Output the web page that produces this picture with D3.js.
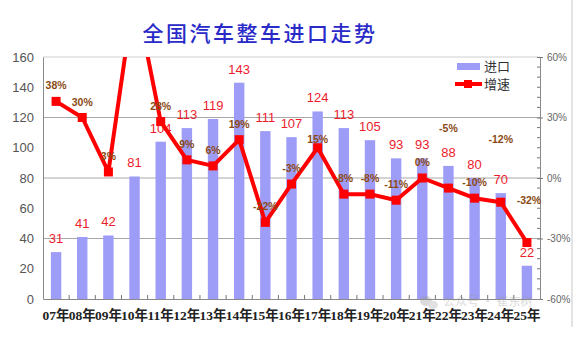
<!DOCTYPE html>
<html>
<head>
<meta charset="utf-8">
<script src="https://cdn.jsdelivr.net/npm/d3@7/dist/d3.min.js"></script>
<style>
  html, body { margin: 0; padding: 0; background: #fff; }
  svg { display: block; }
</style>
</head>
<body>
<svg id="chart" width="580" height="343"></svg>
<script>
// Annual complete-vehicle imports (10k units) and year-on-year growth (%)
const years = ["07年","08年","09年","10年","11年","12年","13年","14年","15年","16年","17年","18年","19年","20年","21年","22年","23年","24年","25年"];
const imports = [31, 41, 42, 81, 104, 113, 119, 143, 111, 107, 124, 113, 105, 93, 93, 88, 80, 70, 22];
const growth = [38, 30, 3, 93, 28, 9, 6, 19, -22, -3, 15, -8, -8, -11, 0, -5, -10, -12, -32];
const leftTicks = [0, 20, 40, 60, 80, 100, 120, 140, 160];
const rightTicks = [-60, -30, 0, 30, 60];

const svg = d3.select("#chart");
const plot = { left: 43, right: 540, top: 57, bottom: 299 };

const x = d3.scaleBand().domain(years).range([plot.left, plot.right]).padding(0);
const yL = d3.scaleLinear().domain([0, 160]).range([plot.bottom, plot.top]);
const yR = d3.scaleLinear().domain([-60, 60]).range([plot.bottom, plot.top]);
const cx = d => x(d) + x.bandwidth() / 2;

// outer frame edge
svg.append("line").attr("x1", 572).attr("x2", 572).attr("y1", 0).attr("y2", 327)
  .attr("stroke", "#c8c8c8").attr("stroke-width", 1);

// title
svg.append("text").attr("x", 260).attr("y", 41).attr("text-anchor", "middle")
  .attr("font-family", "'Noto Sans CJK SC', sans-serif").attr("font-weight", 500)
  .attr("font-size", 21).attr("fill", "#2a2ac8").attr("letter-spacing", 2.5)
  .text("全国汽车整车进口走势");

// gridlines at the right-axis major ticks
svg.append("g").selectAll("line").data(rightTicks.slice(1)).join("line")
  .attr("x1", plot.left).attr("x2", plot.right)
  .attr("y1", d => yR(d)).attr("y2", d => yR(d))
  .attr("stroke", d => d === 60 ? "#cfcfcf" : "#a8a8a8").attr("stroke-width", 1);

// bars
svg.append("g").selectAll("rect").data(years).join("rect")
  .attr("x", (d) => cx(d) - 5.2)
  .attr("width", 10.4)
  .attr("y", (d, i) => yL(imports[i]))
  .attr("height", (d, i) => plot.bottom - yL(imports[i]))
  .attr("fill", "#9d9cf7");

// left axis
const gL = svg.append("g").attr("transform", `translate(${plot.left},0)`)
  .call(d3.axisLeft(yL).tickValues(leftTicks).tickSize(0).tickPadding(9));
gL.select(".domain").attr("stroke", "#8a8a8a");
gL.selectAll("text").attr("font-family", "'Liberation Sans', Arial, sans-serif")
  .attr("font-size", 13).attr("fill", "#555");

// right axis with minor ticks every 5%
const gR = svg.append("g").attr("transform", `translate(${plot.right},0)`)
  .call(d3.axisRight(yR).tickValues(rightTicks).tickSize(3).tickPadding(4).tickFormat(d => d + "%"));
gR.select(".domain").attr("stroke", "#8a8a8a");
gR.selectAll(".tick line").attr("x1", -3).attr("stroke", "#777");
gR.selectAll("text").attr("font-family", "'Liberation Sans Narrow', 'Liberation Sans', sans-serif")
  .attr("font-size", 10).attr("fill", "#666");
gR.append("g").selectAll("line").data(d3.range(-55, 60, 5).filter(v => v % 30 !== 0)).join("line")
  .attr("x1", -3).attr("x2", 0).attr("y1", d => yR(d)).attr("y2", d => yR(d)).attr("stroke", "#777");

// bottom axis
const gB = svg.append("g").attr("transform", `translate(0,${plot.bottom})`)
  .call(d3.axisBottom(x).tickSize(0).tickPadding(11));
gB.select(".domain").attr("stroke", "#8a8a8a");
gB.selectAll("text").attr("font-family", "'Liberation Serif', 'Noto Sans CJK SC', serif")
  .attr("font-size", 13.5).attr("font-weight", 700).attr("fill", "#222");
gB.append("g").selectAll("line").data(years.slice(1)).join("line")
  .attr("x1", d => x(d)).attr("x2", d => x(d)).attr("y1", 0).attr("y2", -4)
  .attr("stroke", "#777");

// bar value labels
svg.append("g").selectAll("text").data(years).join("text")
  .attr("x", d => cx(d)).attr("y", (d, i) => yL(imports[i]) - 9)
  .attr("text-anchor", "middle")
  .attr("font-family", "'Liberation Sans', Arial, sans-serif").attr("font-size", 13)
  .attr("fill", "#ec1c2c")
  .text((d, i) => imports[i]);

// growth line, clipped to the plot area
svg.append("clipPath").attr("id", "plotClip").append("rect")
  .attr("x", plot.left).attr("y", plot.top)
  .attr("width", plot.right - plot.left).attr("height", plot.bottom - plot.top);
const line = d3.line().x(d => cx(d[0])).y(d => yR(d[1]));
const pts = years.map((d, i) => [d, growth[i]]);
const gLine = svg.append("g").attr("clip-path", "url(#plotClip)");
gLine.append("path").datum(pts).attr("d", line)
  .attr("fill", "none").attr("stroke", "#ff0000").attr("stroke-width", 4).attr("stroke-linejoin", "round");
gLine.selectAll("rect").data(pts).join("rect")
  .attr("x", d => cx(d[0]) - 4.5).attr("y", d => yR(d[1]) - 4.5)
  .attr("width", 9).attr("height", 9).attr("fill", "#ff0000");

// growth labels (a few are lifted clear of the line)
const labelLift = { "17年": -9, "22年": -60, "24年": -63, "25年": -43 };
const labelNudge = { "25年": 2 };
svg.append("g").selectAll("text").data(pts.filter(d => yR(d[1]) > plot.top)).join("text")
  .attr("x", d => cx(d[0]) + (labelNudge[d[0]] || 0))
  .attr("y", d => yR(d[1]) + (labelLift[d[0]] ?? -16) + 4)
  .attr("text-anchor", "middle")
  .attr("font-family", "'Liberation Sans', Arial, sans-serif").attr("font-size", 10.5)
  .attr("font-weight", 700).attr("fill", "#8b4a14")
  .text(d => d[1] + "%");

// legend
const lg = svg.append("g");
lg.append("rect").attr("x", 457).attr("y", 63).attr("width", 23).attr("height", 7).attr("fill", "#9d9cf7");
lg.append("text").attr("x", 484).attr("y", 70.5).attr("font-family", "'Noto Sans CJK SC', sans-serif")
  .attr("font-size", 13).attr("fill", "#333").text("进口");
lg.append("line").attr("x1", 455).attr("x2", 482).attr("y1", 84).attr("y2", 84)
  .attr("stroke", "#ff0000").attr("stroke-width", 4);
lg.append("rect").attr("x", 464).attr("y", 80).attr("width", 8).attr("height", 8).attr("fill", "#ff0000");
lg.append("text").attr("x", 484).attr("y", 89).attr("font-family", "'Noto Sans CJK SC', sans-serif")
  .attr("font-size", 13).attr("fill", "#333").text("增速");

// faint account mark
const wm = svg.append("g").attr("opacity", 0.35);
wm.append("ellipse").attr("cx", 426).attr("cy", 301).attr("rx", 6).attr("ry", 5).attr("fill", "#999");
wm.append("ellipse").attr("cx", 433).attr("cy", 305).attr("rx", 5).attr("ry", 4).attr("fill", "#aaa");
wm.append("text").attr("x", 443).attr("y", 306).attr("font-family", "'Noto Sans CJK SC', sans-serif")
  .attr("font-size", 12).attr("fill", "#999").text("公众号 · 崔东树");
</script>
</body>
</html>
